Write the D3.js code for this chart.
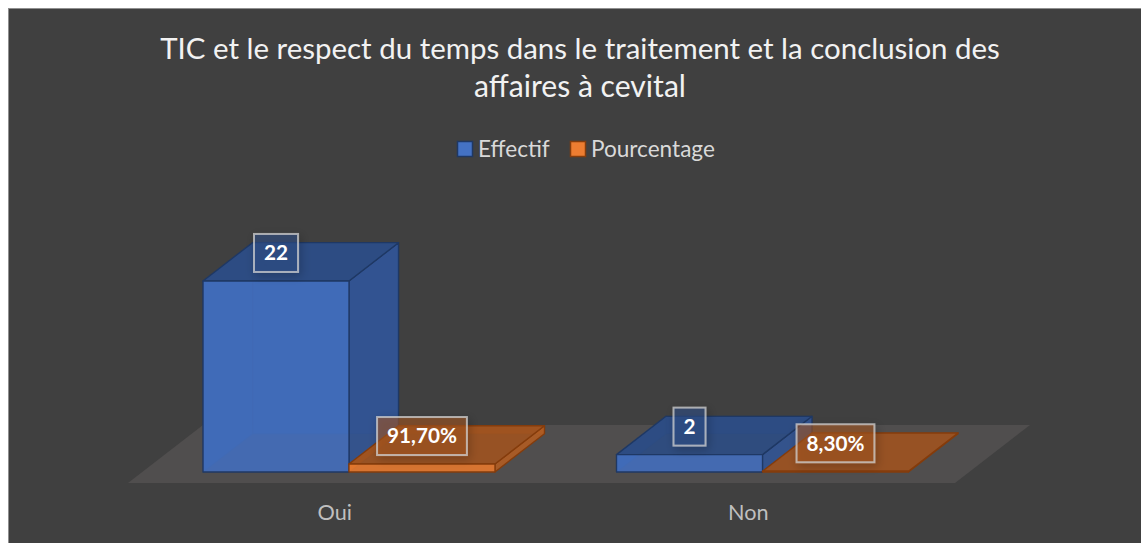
<!DOCTYPE html>
<html>
<head>
<meta charset="utf-8">
<script src="https://cdn.jsdelivr.net/npm/d3@7"></script>
<style>
  body { margin: 0; background: #ffffff; }
  svg { display: block; }
</style>
</head>
<body>
<div id="chart"></div>
<script>
var categories = ['Oui', 'Non'];
var seriesNames = ['Effectif', 'Pourcentage'];
var effectif = [22, 2];
var pourcentage = [0.917, 0.083];
var titleLines = ['TIC et le respect du temps dans le traitement et la conclusion des', 'affaires à cevital'];

var seriesColors = ['#4472c4', '#ed7d31'];
var edgeColors = ['#1f3864', '#843c0c'];

var W = 1141, H = 543;
// floor depth offset (screen) and bar depth range inside it
var DX = 75, DY = 58, Z0 = 0.19, Z1 = 0.85;
var fontFam = 'Lato, "Open Sans", sans-serif';

var svg = d3.select('#chart').append('svg')
    .attr('width', W)
    .attr('height', H);

svg.append('rect')
    .attr('x', 8.5).attr('y', 8.5)
    .attr('width', W + 20).attr('height', H + 20)
    .style('fill', '#404040')
    .style('stroke', '#8f8f8f')
    .style('stroke-width', 1);

var defs = svg.append('defs');
var f = defs.append('filter').attr('id', 'shadow')
    .attr('x', '-50%').attr('y', '-50%').attr('width', '200%').attr('height', '200%');
f.append('feDropShadow').attr('dx', 2).attr('dy', 3).attr('stdDeviation', 5)
    .attr('flood-color', '#000').attr('flood-opacity', 0.35);

// title, sizes fitted so Lato matches the original widths
var title = svg.append('g');
var t2 = title.append('text')
    .attr('x', 580).attr('y', 97)
    .attr('text-anchor', 'middle')
    .style('font-family', fontFam)
    .style('font-size', '32px')
    .style('fill', '#f2f2f2')
    .text(titleLines[1]);
var k = 212 / t2.node().getComputedTextLength();
t2.style('font-size', (32 * k) + 'px');
var t1 = title.append('text')
    .attr('x', 580).attr('y', 59)
    .attr('text-anchor', 'middle')
    .style('font-family', fontFam)
    .style('font-size', '32px')
    .style('fill', '#f2f2f2')
    .text(titleLines[0]);
t1.style('font-size', (32 * 840 / t1.node().getComputedTextLength()) + 'px');

// legend
var legendX = [457, 570];
var legend = svg.append('g')
    .selectAll('g')
    .data(seriesNames)
    .enter()
    .append('g');
legend.append('rect')
    .attr('x', (d, i) => legendX[i] + 0.5)
    .attr('y', 141.5)
    .attr('width', 15).attr('height', 15)
    .style('fill', (d, i) => seriesColors[i])
    .style('stroke', (d, i) => edgeColors[i])
    .style('stroke-width', 1.5);
legend.append('text')
    .attr('x', (d, i) => legendX[i] + 21)
    .attr('y', 157)
    .style('font-family', fontFam)
    .style('font-size', (24 * k) + 'px')
    .style('fill', '#d9d9d9')
    .text(d => d);

// scales (front plane of the floor)
var x = d3.scaleBand()
    .domain(categories)
    .range([128, 955])
    .paddingInner(0.294)
    .paddingOuter(0.147);
var xs = d3.scaleBand()
    .domain(seriesNames)
    .range([0, x.bandwidth()]);
var y = d3.scaleLinear()
    .domain([0, 22])
    .range([483, 292]);

// floor
var floorPts = [[x.range()[0], y(0)], [x.range()[1], y(0)],
    [x.range()[1] + DX, y(0) - DY], [x.range()[0] + DX, y(0) - DY]];
svg.append('polygon')
    .attr('points', floorPts.map(p => p.join(',')).join(' '))
    .style('fill', '#504e4e');

// category labels
svg.append('g')
    .selectAll('text')
    .data(categories)
    .enter()
    .append('text')
    .attr('x', d => x(d) + x.bandwidth() / 2)
    .attr('y', 520)
    .attr('text-anchor', 'middle')
    .style('font-family', fontFam)
    .style('font-size', (23 * k) + 'px')
    .style('fill', '#bfbfbf')
    .text(d => d);

// bars
var bars = [];
categories.forEach(function(c, ci) {
    [effectif[ci], pourcentage[ci]].forEach(function(v, si) {
        bars.push({cat: c, series: seriesNames[si], si: si, value: v,
            label: si === 0 ? String(v) : d3.format('.2%')(v).replace('.', ',')});
    });
});

function P(xv, yv, z) { return [xv + z * DX, yv - z * DY]; }
function poly(pts) { return pts.map(p => p.join(',')).join(' '); }

var barG = svg.append('g');
bars.forEach(function(b) {
    var x0 = x(b.cat) + xs(b.series), x1 = x0 + xs.bandwidth();
    var yb = y(0), yt = y(b.value);
    var base = d3.color(seriesColors[b.si]);
    var g = barG.append('g')
        .style('stroke', edgeColors[b.si])
        .style('stroke-width', 1.3)
        .style('stroke-linejoin', 'round');
    // hidden faces, seen through the transparent front
    g.append('polygon')
        .attr('points', poly([P(x0, yb, Z1), P(x1, yb, Z1), P(x1, yt, Z1), P(x0, yt, Z1)]))
        .style('fill', base.darker(0.9))
        .style('stroke-opacity', 0.35);
    g.append('polygon')
        .attr('points', poly([P(x0, yb, Z0), P(x0, yb, Z1), P(x0, yt, Z1), P(x0, yt, Z0)]))
        .style('fill', base.darker(0.9))
        .style('stroke-opacity', 0.35);
    // visible faces
    g.append('polygon')
        .attr('points', poly([P(x1, yb, Z0), P(x1, yb, Z1), P(x1, yt, Z1), P(x1, yt, Z0)]))
        .style('fill', base.darker(0.85))
        .style('fill-opacity', 0.92);
    g.append('polygon')
        .attr('points', poly([P(x0, yt, Z0), P(x1, yt, Z0), P(x1, yt, Z1), P(x0, yt, Z1)]))
        .style('fill', base.darker(1.15))
        .style('fill-opacity', 0.92);
    g.append('polygon')
        .attr('points', poly([P(x0, yb, Z0), P(x1, yb, Z0), P(x1, yt, Z0), P(x0, yt, Z0)]))
        .style('fill', base.darker(0.1))
        .style('fill-opacity', 0.9);
});

// data labels
var labelG = svg.append('g');
bars.forEach(function(b) {
    var cx = x(b.cat) + xs(b.series) + xs.bandwidth() / 2 + Z0 * DX;
    var cy = y(b.value) - Z0 * DY - 28;
    var g = labelG.append('g');
    var box = g.append('rect');
    var t = g.append('text')
        .attr('x', cx).attr('y', cy)
        .attr('text-anchor', 'middle')
        .attr('dy', '0.35em')
        .style('font-family', fontFam)
        .style('font-weight', 'bold')
        .style('font-size', (22 * k) + 'px')
        .style('fill', '#ffffff')
        .text(b.label);
    var w = t.node().getComputedTextLength() + 20;
    box.attr('x', cx - w / 2).attr('y', cy - 19)
        .attr('width', w).attr('height', 38)
        .style('fill', d3.color(seriesColors[b.si]).darker(1))
        .style('fill-opacity', 0.55)
        .style('stroke', '#d0d0d0')
        .style('stroke-opacity', 0.75)
        .style('stroke-width', 2)
        .attr('filter', 'url(#shadow)');
});
</script>
</body>
</html>
